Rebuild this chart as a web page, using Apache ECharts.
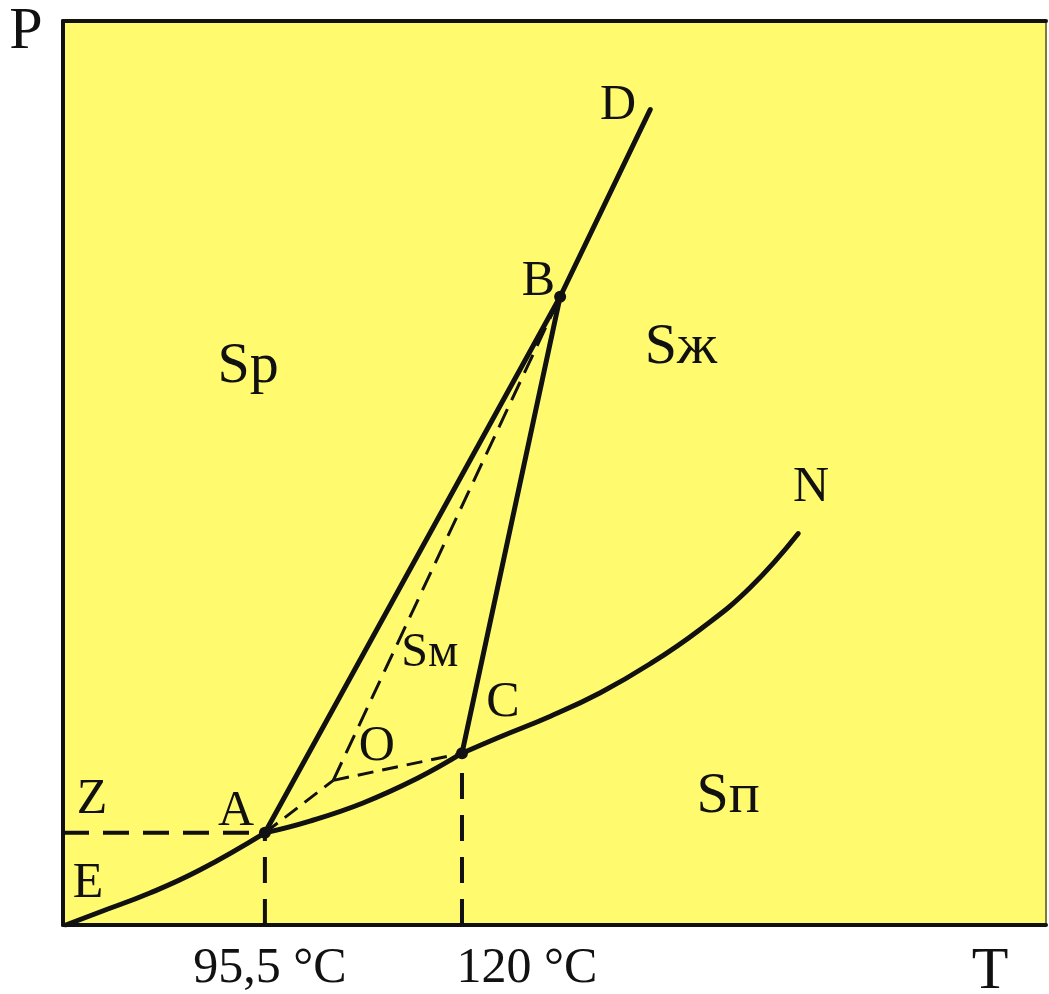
<!DOCTYPE html>
<html>
<head>
<meta charset="utf-8">
<title>Диаграмма состояния серы</title>
<script src="https://cdn.jsdelivr.net/npm/echarts@6/dist/echarts.min.js"></script>
<style>
  html, body { margin: 0; padding: 0; background: #ffffff; }
  #chart { width: 1049px; height: 994px; }
</style>
</head>
<body>
<div id="chart"></div>
<script>
// Phase diagram of sulfur: T (°C) horizontally, P (arbitrary units) vertically.

// Triple points and curve end points [T, P]
const pointA = [95.5, 10.2];   // rhombic / monoclinic / vapour
const pointC = [120.0, 19.0];  // monoclinic / liquid / vapour
const pointB = [132.2, 69.5];  // rhombic / monoclinic / liquid
const pointD = [143.4, 90.2];
const pointO = [104.0, 16.0];  // metastable rhombic / liquid / vapour

// Sublimation curve of rhombic sulfur (E–A)
const curveEA = [[70.75, 0.0], [75.0, 1.44], [81.2, 3.54], [87.4, 6.08], pointA];
// Sublimation curve of monoclinic sulfur (A–C)
const curveAC = [pointA, [101.1, 11.5], [107.7, 13.5], [114.4, 16.2], pointC];
// Vapour pressure curve of liquid sulfur (C–N)
const curveCN = [pointC, [124.7, 20.8], [131.0, 23.1], [137.2, 25.7], [143.4, 28.9],
                 [149.6, 32.7], [155.8, 37.3], [161.8, 43.3]];

// Tick labels on the temperature axis
const tempTicks = [95.5, 120];
const tempTickText = ['95,5 °C', '120 °C'];

// Point letters [name, T, P]
const pointLabels = [
  ['Z', 74.0, 13.8], ['A', 91.9, 12.5], ['E', 73.5, 4.5], ['O', 109.4, 19.7],
  ['C', 125.1, 24.6], ['B', 129.5, 71.1], ['D', 139.4, 90.6], ['N', 163.4, 48.3]
];
// Phase region names [name, T, P]
const regionLabels = [
  ['Sр', 93.4, 61.8], ['Sж', 147.2, 63.9], ['Sп', 153.1, 14.2]
];
const regionLabelsSmall = [
  ['Sм', 116.0, 30.0]
];

const FONT = "'Liberation Serif', 'DejaVu Serif', serif";
const INK = '#111111';

const chart = echarts.init(document.getElementById('chart'), null, { renderer: 'canvas' });

function solid(data, name) {
  return {
    name: name, type: 'line', data: data, symbol: 'none',
    smooth: 0.45,
    lineStyle: { color: INK, width: 5, cap: 'round' },
    z: 5, silent: true
  };
}
function straight(data, name) {
  return {
    name: name, type: 'line', data: data, symbol: 'none',
    lineStyle: { color: INK, width: 5, cap: 'round' },
    z: 5, silent: true
  };
}
function dashed(data, name, width, dash) {
  return {
    name: name, type: 'line', data: data, symbol: 'none',
    lineStyle: { color: INK, width: width, type: dash },
    z: 4, silent: true
  };
}
function textSeries(list, size) {
  return {
    type: 'scatter', symbolSize: 1, silent: true, z: 6,
    itemStyle: { color: 'rgba(0,0,0,0)', opacity: 1 },
    data: list.map(function (d) { return { name: d[0], value: [d[1], d[2]] }; }),
    label: {
      show: true, position: 'inside', formatter: '{b}',
      fontFamily: FONT, fontSize: size, color: INK, opacity: 1
    }
  };
}

const option = {
  animation: false,
  backgroundColor: '#ffffff',
  grid: {
    left: 63, right: 3, top: 21, bottom: 69,
    outerBoundsMode: 'none', containLabel: false,
    show: true, backgroundColor: '#FFFA6E', borderWidth: 0
  },
  xAxis: [
    {
      type: 'value', min: 70.4, max: 192.6, position: 'bottom',
      name: 'T', nameLocation: 'end', nameGap: -56,
      nameTextStyle: {
        fontFamily: FONT, fontSize: 60, color: INK,
        align: 'center', verticalAlign: 'top', lineHeight: 94
      },
      axisLine: { show: true, onZero: false, lineStyle: { color: INK, width: 4 } },
      axisTick: { show: false },
      splitLine: { show: false },
      axisLabel: {
        customValues: tempTicks,
        margin: 19,
        formatter: function (v) {
          const i = tempTicks.indexOf(v);
          return i === 0 ? '{l|' + tempTickText[0] + '}' : '{r|' + tempTickText[1] + '}';
        },
        rich: {
          l: { fontFamily: FONT, fontSize: 50, color: INK, padding: [0, 0, 0, 10] },
          r: { fontFamily: FONT, fontSize: 50, color: INK, padding: [0, 0, 0, 130] }
        }
      }
    },
    {
      type: 'value', min: 70.4, max: 192.6, position: 'top',
      axisLine: { show: true, onZero: false, lineStyle: { color: INK, width: 4 } },
      axisTick: { show: false }, axisLabel: { show: false }, splitLine: { show: false }
    }
  ],
  yAxis: [
    {
      type: 'value', min: 0, max: 100, position: 'left',
      name: 'P', nameLocation: 'end', nameGap: -11,
      nameTextStyle: {
        fontFamily: FONT, fontSize: 60, color: INK,
        align: 'center', verticalAlign: 'middle', padding: [0, 74, 0, 0]
      },
      axisLine: { show: true, onZero: false, lineStyle: { color: INK, width: 4 } },
      axisTick: { show: false }, axisLabel: { show: false }, splitLine: { show: false }
    },
    {
      type: 'value', min: 0, max: 100, position: 'right',
      axisLine: { show: true, onZero: false, lineStyle: { color: '#7c7a3c', width: 2 } },
      axisTick: { show: false }, axisLabel: { show: false }, splitLine: { show: false }
    }
  ],
  series: [
    // reference lines to the axes
    dashed([[70.4, pointA[1]], pointA], 'ZA', 4, [26, 14]),
    dashed([[pointA[0], 0], pointA], 'A-T', 4, [26, 16]),
    dashed([[pointC[0], 0], pointC], 'C-T', 4, [26, 16]),
    // metastable equilibria
    dashed([pointA, pointO], 'AO', 3, [16, 9]),
    dashed([pointO, pointC], 'OC', 3, [16, 9]),
    dashed([pointO, pointB], 'OB', 3, [20, 10]),
    // stable equilibria
    solid(curveEA, 'EA'),
    solid(curveAC, 'AC'),
    solid(curveCN, 'CN'),
    straight([pointA, pointB], 'AB'),
    straight([pointC, pointB], 'CB'),
    straight([pointB, pointD], 'BD'),
    // triple points
    {
      type: 'scatter', symbol: 'circle', symbolSize: 12, silent: true, z: 7,
      itemStyle: { color: INK, opacity: 1 },
      data: [pointA, pointB, pointC]
    },
    textSeries(pointLabels, 50),
    textSeries(regionLabels, 58),
    textSeries(regionLabelsSmall, 48)
  ]
};

chart.setOption(option);
</script>
</body>
</html>
